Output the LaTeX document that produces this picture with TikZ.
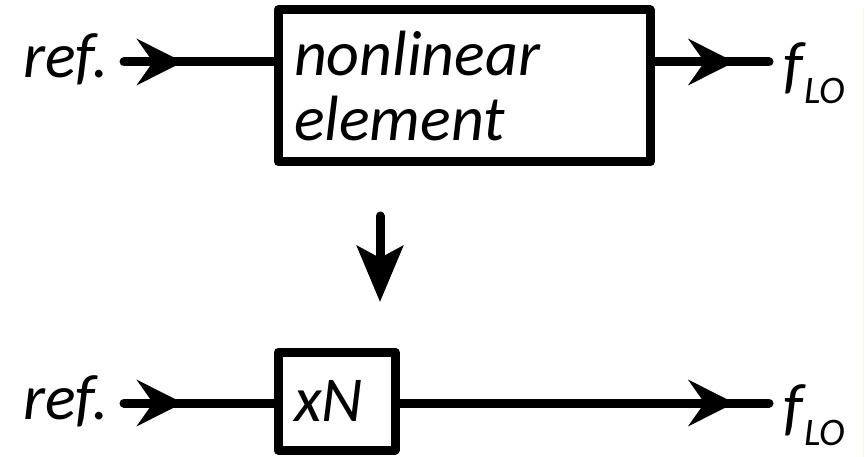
\documentclass[tikz,border=0pt]{standalone}
\usepackage{fontspec}
\setmainfont{Carlito}
\usetikzlibrary{arrows.meta,decorations.markings}

\tikzset{
	lbl/.style={inner sep=0pt, font=\fontsize{64}{65}\selectfont\itshape},
	blk/.style={draw, line width=9pt, line join=round, inner xsep=16pt, inner ysep=0pt,
		align=left, font=\fontsize{64}{65}\selectfont\itshape},
	wire/.style={line width=9pt, line cap=round},
	midarrow/.style={postaction={decorate}, decoration={markings,
		mark=at position #1 with {\arrow{Stealth[length=46pt,width=46pt,inset=16pt]}}}}
}
\newcommand{\flo}{f\kern2pt\raisebox{-17pt}{\fontsize{39}{39}\selectfont LO}}

\begin{document}
\begin{tikzpicture}[x=1pt,y=-1pt]
		\useasboundingbox (0,0) rectangle (868,457);
		\fill[white] (0,0) rectangle (868,457);
		
		% upper chain
		\node[blk, minimum width=372pt, minimum height=152pt, text width=340pt] (nle) at (464,86) {nonlinear\\element};
		\node[lbl, anchor=base west] (refA) at (23,78) {ref.};
		\node[lbl, anchor=base west] (foA) at (783,87) {\flo};
		\coordinate (inA) at (124,62);
		\coordinate (outA) at (769,62);
		\draw[wire, midarrow=59pt] (inA) -- (nle.west |- inA);
		\draw[wire, midarrow=80pt] (nle.east |- outA) -- (outA);
		
		% equivalent
		\coordinate (dTop) at (380,216);
		\coordinate (dBot) at (380,302);
		\draw[wire, -{Stealth[length=56pt,width=46pt,inset=12pt]}] (dTop) -- (dBot);
		
		% lower chain
		\node[blk, minimum width=117pt, minimum height=98pt, text width=85pt] (mult) at (336.5,401) {xN};
		\node[lbl, anchor=base west] (refB) at (23,419) {ref.};
		\node[lbl, anchor=base west] (foB) at (783,428) {\flo};
		\coordinate (inB) at (124,403);
		\coordinate (outB) at (769,403);
		\draw[wire, midarrow=59pt] (inB) -- (mult.west |- inB);
		\draw[wire, midarrow=335pt] (mult.east |- outB) -- (outB);
		
		\draw[line width=1pt, yellow!60!green!12] (863,8) -- (863,457);
\end{tikzpicture}
\end{document}
